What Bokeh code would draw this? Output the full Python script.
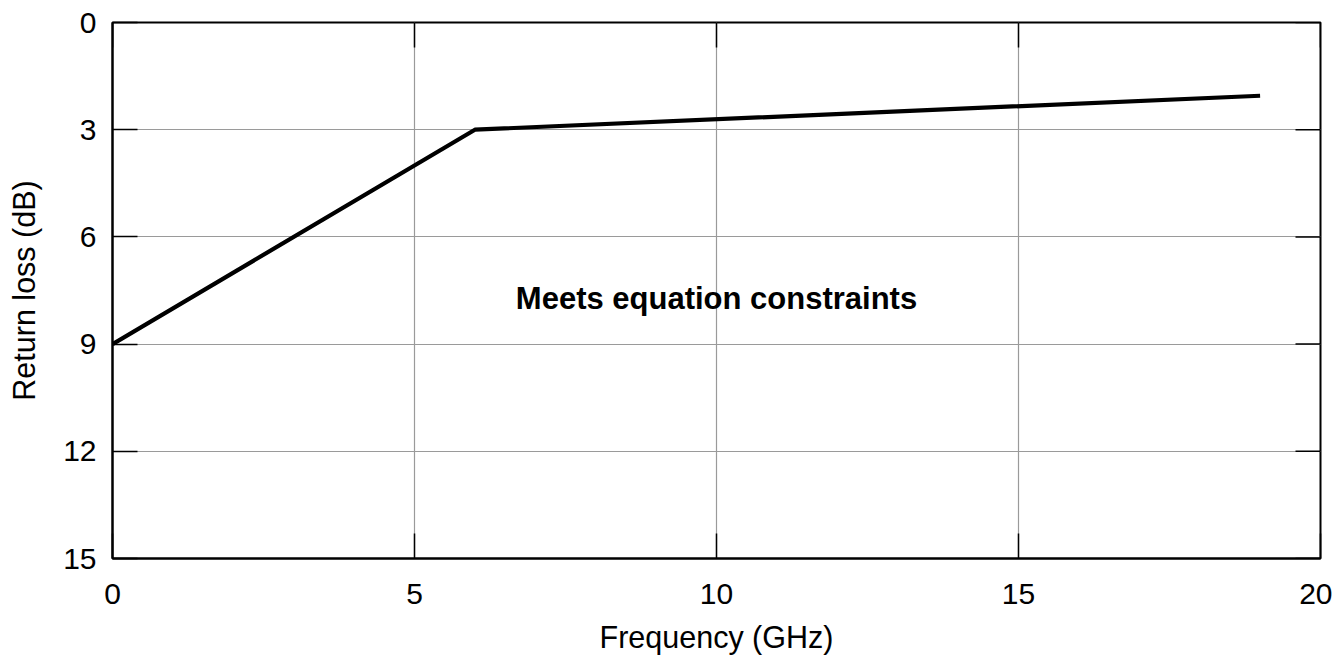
from bokeh.plotting import figure
from bokeh.models import Range1d, FixedTicker
from bokeh.core.properties import value
from bokeh.embed import file_html
from bokeh.resources import INLINE

# Data
freq_ghz = [0, 6, 19]
return_loss_db = [9, 3, 2.05]
x_ticks = [0, 5, 10, 15, 20]
y_ticks = [0, 3, 6, 9, 12, 15]
note_text = ["Meets equation constraints"]
note_x = [10]
note_y = [7.72]

FONT = "Liberation Sans"
X_MIN, X_MAX = 0, 20
Y_MIN, Y_MAX = 0, 15
FRAME_W, FRAME_H = 1208, 536
TICK_PX = 25

p = figure(frame_width=FRAME_W, frame_height=FRAME_H,
           min_border_left=112, min_border_right=12,
           min_border_top=22, min_border_bottom=100,
           x_range=Range1d(X_MIN, X_MAX), y_range=Range1d(Y_MAX, Y_MIN),
           output_backend="svg", toolbar_location=None)

p.outline_line_color = "black"
p.outline_line_width = 2
p.background_fill_color = "white"
p.border_fill_color = "white"

p.xgrid.ticker = FixedTicker(ticks=x_ticks)
p.ygrid.ticker = FixedTicker(ticks=y_ticks)
p.grid.grid_line_color = "#9a9a9a"
p.grid.grid_line_width = 1.2

for ax in p.xaxis + p.yaxis:
    ax.major_tick_in = TICK_PX
    ax.major_tick_out = 0
    ax.minor_tick_in = 0
    ax.minor_tick_out = 0
    ax.major_tick_line_color = "black"
    ax.major_tick_line_width = 1.5
    ax.axis_line_color = "black"
    ax.axis_line_width = 2
    ax.major_label_text_font = FONT
    ax.major_label_text_font_size = "30px"
    ax.major_label_text_color = "black"
    ax.axis_label_text_font = FONT
    ax.axis_label_text_font_size = "30.5px"
    ax.axis_label_text_font_style = "normal"
    ax.axis_label_text_color = "black"

p.xaxis.ticker = FixedTicker(ticks=x_ticks)
p.yaxis.ticker = FixedTicker(ticks=y_ticks)
p.xaxis.axis_label = "Frequency (GHz)"
p.yaxis.axis_label = "Return loss (dB)"
p.xaxis.major_label_standoff = 25
p.yaxis.major_label_standoff = 16
p.xaxis.axis_label_standoff = 13
p.yaxis.axis_label_standoff = 19

# inward ticks on the top and right edges of the frame
dx = TICK_PX * (X_MAX - X_MIN) / FRAME_W
dy = TICK_PX * (Y_MAX - Y_MIN) / FRAME_H
p.segment(x0=x_ticks, y0=[Y_MIN] * len(x_ticks), x1=x_ticks, y1=[Y_MIN + dy] * len(x_ticks),
          line_color="black", line_width=1.5)
p.segment(x0=[X_MAX] * len(y_ticks), y0=y_ticks, x1=[X_MAX - dx] * len(y_ticks), y1=y_ticks,
          line_color="black", line_width=1.5)

p.line(freq_ghz, return_loss_db, line_color="black", line_width=4.2)

p.text(x=note_x, y=note_y, text=note_text, text_align="center",
       text_baseline="middle", text_font=value(FONT),
       text_font_size="31px", text_font_style="bold", text_color="black")

open("out.html", "w").write(file_html(p, INLINE))
